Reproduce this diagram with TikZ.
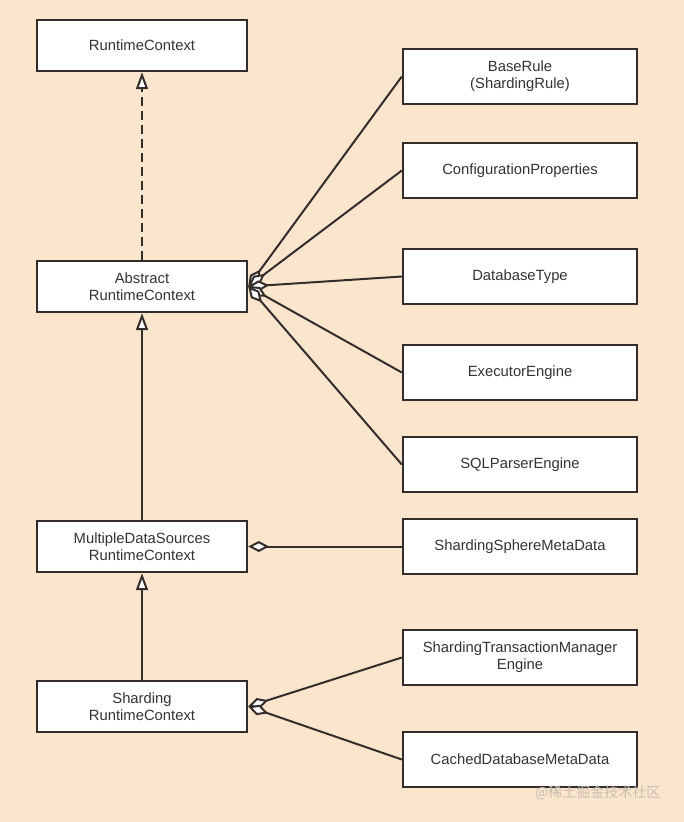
\documentclass[tikz,border=0pt]{standalone}
\usepackage{fontspec}
\setmainfont{Liberation Sans}
\newfontfamily\cjkfont{Noto Sans CJK SC}
\usetikzlibrary{arrows.meta}
\definecolor{bgpeach}{RGB}{252,229,205}
\definecolor{ink}{RGB}{51,46,43}
\definecolor{txt}{RGB}{51,51,51}
\definecolor{wmark}{RGB}{200,189,178}
\tikzset{
  lbox/.style={draw=ink, line width=2.4pt, fill=white, minimum width=210pt, minimum height=51pt,
    align=center, text=txt, font=\fontsize{14.8}{17}\selectfont, inner sep=0pt},
  rbox/.style={draw=ink, line width=2.4pt, fill=white, minimum width=234pt, minimum height=55pt,
    align=center, text=txt, font=\fontsize{14.8}{17}\selectfont, inner sep=0pt},
  inherit/.style={draw=ink, line width=2pt, -{Triangle[length=17pt,width=12pt,fill=white]}},
  agg/.style={draw=ink, line width=2pt, {Diamond[length=21pt,width=11pt,fill=white]}-}
}
\begin{document}
\begin{tikzpicture}[x=1pt,y=-1pt]
\fill[bgpeach] (0,0) rectangle (684,822);
\useasboundingbox (0,0) rectangle (684,822);

\node[lbox] (rc)  at (142,45.5)  {RuntimeContext};
\node[lbox] (arc) at (142,286.5) {Abstract\\RuntimeContext};
\node[lbox] (mds) at (142,546.5) {MultipleDataSources\\RuntimeContext};
\node[lbox] (src) at (142,706.5) {Sharding\\RuntimeContext};

\node[rbox] (br)  at (520,76.5)  {BaseRule\\(ShardingRule)};
\node[rbox] (cp)  at (520,170.5) {ConfigurationProperties};
\node[rbox] (dt)  at (520,276.5) {DatabaseType};
\node[rbox] (ee)  at (520,372.5) {ExecutorEngine};
\node[rbox] (sp)  at (520,464.5) {SQLParserEngine};
\node[rbox] (ssm) at (520,546.5) {ShardingSphereMetaData};
\node[rbox] (stm) at (520,657.5) {ShardingTransactionManager\\Engine};
\node[rbox] (cdm) at (520,759.5) {CachedDatabaseMetaData};

\draw[inherit, dash pattern=on 9pt off 5pt] (arc.north) -- (rc.south);
\draw[inherit] (mds.north) -- (arc.south);
\draw[inherit] (src.north) -- (mds.south);

\foreach \t in {br,cp,dt,ee,sp}
  \draw[agg] (arc.east) -- (\t.west);
\draw[agg] (mds.east) -- (ssm.west);
\draw[agg] (src.east) -- (stm.west);
\draw[agg] (src.east) -- (cdm.west);

\node[text=wmark, font=\cjkfont\fontsize{14}{16}\selectfont, anchor=west, inner sep=0pt] (wm) at (535,793) {@稀土掘金技术社区};
\end{tikzpicture}
\end{document}
